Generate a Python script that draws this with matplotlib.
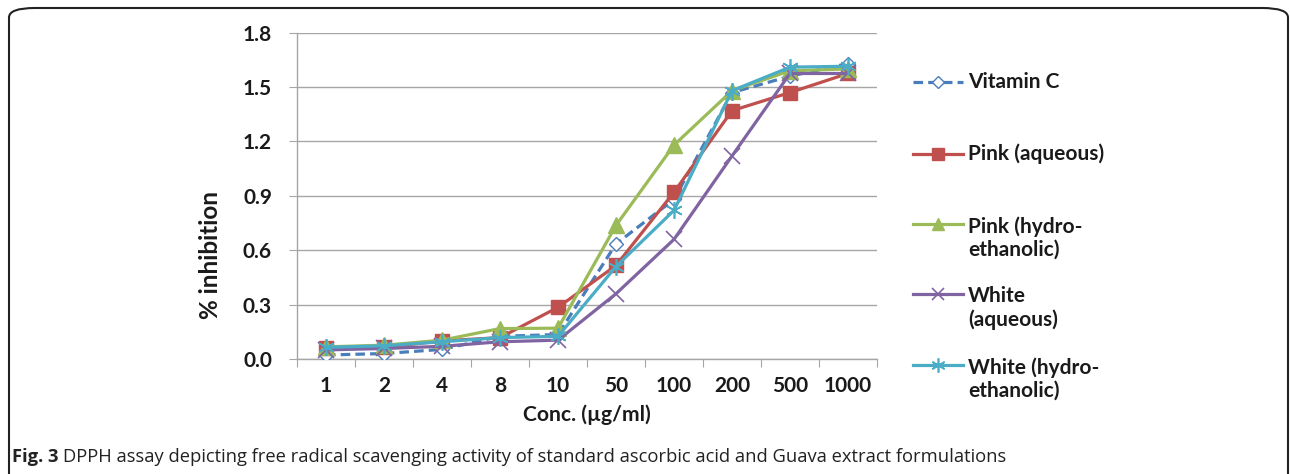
import numpy as np
import matplotlib
matplotlib.use("Agg")
import matplotlib.pyplot as plt
from matplotlib.lines import Line2D
from matplotlib.patches import FancyBboxPatch

plt.rcParams['font.family'] = ['Lato', 'DejaVu Sans']

# concentrations (ug/ml) - treated as categories
conc = ['1', '2', '4', '8', '10', '50', '100', '200', '500', '1000']

vitamin_c = [0.022, 0.030, 0.053, 0.125, 0.135, 0.635, 0.88, 1.47, 1.56, 1.63]
pink_aq = [0.058, 0.064, 0.100, 0.118, 0.285, 0.516, 0.92, 1.37, 1.47, 1.575]
pink_hydro = [0.067, 0.076, 0.104, 0.168, 0.170, 0.737, 1.18, 1.48, 1.59, 1.60]
white_aq = [0.050, 0.058, 0.070, 0.095, 0.104, 0.36, 0.66, 1.12, 1.575, 1.575]
white_hydro = [0.064, 0.073, 0.095, 0.118, 0.125, 0.51, 0.82, 1.48, 1.61, 1.615]

labels = ['Vitamin C', 'Pink (aqueous)', 'Pink (hydro-\nethanolic)',
          'White\n(aqueous)', 'White (hydro-\nethanolic)']

series = [vitamin_c, pink_aq, pink_hydro, white_aq, white_hydro]
styles = [
    dict(color='#4A7EBB', ls=(0, (3, 1.6)), marker='D', mfc='white', mec='#4A7EBB', ms=7, mew=1.0),
    dict(color='#C0504D', ls='-', marker='s', mfc='#C0504D', mec='#C0504D', ms=10, mew=1.0),
    dict(color='#9BBB59', ls='-', marker='^', mfc='#9BBB59', mec='#9BBB59', ms=11, mew=1.0),
    dict(color='#8064A2', ls='-', marker='x', mfc='#8064A2', mec='#8064A2', ms=11, mew=1.2),
    dict(color='#4BACC6', ls='-', marker=(6, 2, 0), mfc='#4BACC6', mec='#4BACC6', ms=12, mew=1.2),
]

W, H = 1290, 474
fig = plt.figure(figsize=(W / 100, H / 100), dpi=100)

# outer frame with rounded corners (runs off bottom of image)
frame = FancyBboxPatch((9 / W, -0.2), (1288 - 9) / W, (474 - 8) / H + 0.2,
                       boxstyle="round,pad=0,rounding_size=0.02",
                       transform=fig.transFigure, fill=False, ec='#222222', lw=1.5)
fig.patches.append(frame)

ax = fig.add_axes([297 / W, (H - 359) / H, 580 / W, 326.3 / H])
x = np.arange(len(conc))
for vals, st in zip(series, styles):
    ax.plot(x, vals, color=st['color'], ls=st['ls'], lw=2.3, marker=st['marker'],
            mfc=st['mfc'], mec=st['mec'], ms=st['ms'], mew=st['mew'], zorder=3)

ax.set_xlim(-0.5, len(conc) - 0.5)
ax.set_ylim(0, 1.8)
ax.set_yticks(np.arange(0, 1.81, 0.3))
ax.set_yticklabels([f"{v:.1f}" for v in np.arange(0, 1.81, 0.3)])
ax.grid(axis='y', color='#A6A6A6', lw=1.0)
ax.set_axisbelow(True)

ax.set_xticks(np.arange(-0.5, len(conc), 1.0))
ax.set_xticklabels([])
ax.set_xticks(x, minor=True)
ax.set_xticklabels(conc, minor=True)
ax.tick_params(axis='x', which='major', length=6, color='#A6A6A6', direction='out')
ax.tick_params(axis='x', which='minor', length=0, pad=12, labelsize=15)
ax.tick_params(axis='y', length=6, color='#A6A6A6', pad=12, labelsize=15)
for lab in ax.get_xticklabels(minor=True) + ax.get_yticklabels():
    lab.set_fontweight('bold')
    lab.set_color('#1a1a1a')

for s in ['top', 'right']:
    ax.spines[s].set_visible(False)
for s in ['left', 'bottom']:
    ax.spines[s].set_color('#A6A6A6')
    ax.spines[s].set_linewidth(1.0)

ax.set_ylabel('% inhibition', fontsize=17.5, fontweight='bold', color='#1a1a1a', va='center')
ax.yaxis.set_label_coords(-0.15, 0.32)
ax.set_xlabel('Conc. (\u00b5g/ml)', fontsize=15.2, fontweight='bold', color='#1a1a1a')
ax.xaxis.set_label_coords(0.5, -0.14)

# legend drawn by hand in pixel coordinates
lax = fig.add_axes([0, 0, 1, 1], facecolor='none')
lax.set_xlim(0, W)
lax.set_ylim(H, 0)
lax.axis('off')
leg_y = [82, 154, 238, 308, 379]
for yy, st, lab in zip(leg_y, styles, labels):
    ly = yy if '\n' not in lab else yy - 14
    lax.add_line(Line2D([913, 963], [ly, ly], color=st['color'], ls=st['ls'], lw=2.3))
    lax.plot([938], [ly], ls='none', marker=st['marker'], mfc=st['mfc'], mec=st['mec'],
             ms=st['ms'] * 0.85, mew=st['mew'])
    lax.text(968, yy, lab, fontsize=15, fontweight='bold', va='center', ha='left',
             linespacing=1.2, color='#1a1a1a')

fig.text(12 / W, 1 - 457 / H, 'Fig. 3', fontsize=13.2, fontweight='bold',
         family=['Open Sans', 'DejaVu Sans'], va='center', ha='left', color='#222222')
fig.text(63 / W, 1 - 457 / H,
         'DPPH assay depicting free radical scavenging activity of standard ascorbic acid and Guava extract formulations',
         fontsize=13.2, family=['Open Sans', 'DejaVu Sans'], va='center', ha='left', color='#222222')

fig.savefig('out.png', dpi=100)
